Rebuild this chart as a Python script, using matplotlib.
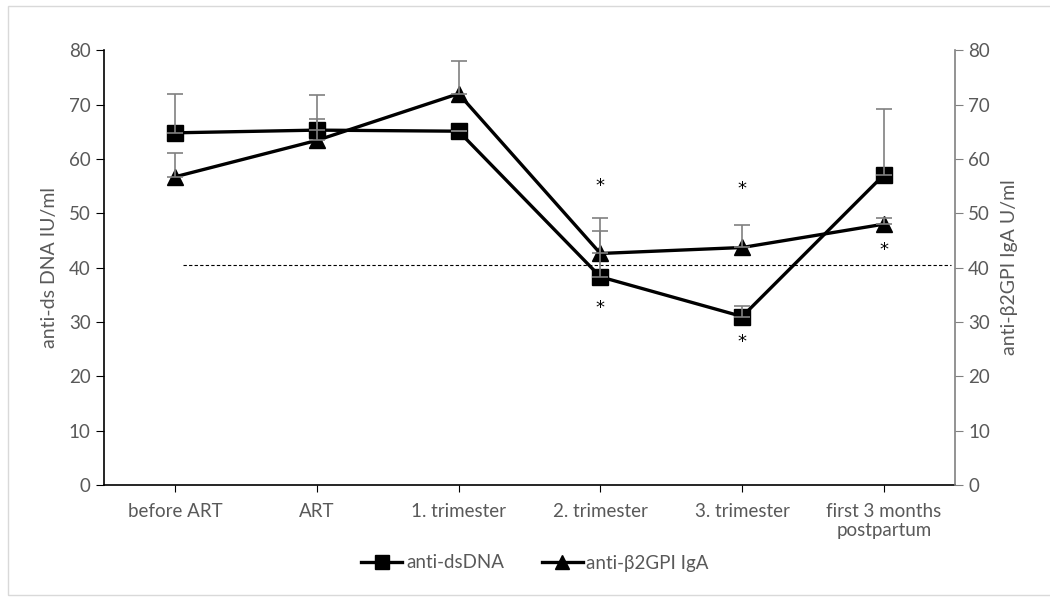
import numpy as np
import matplotlib
matplotlib.use('Agg')
import matplotlib.pyplot as plt
from matplotlib.patches import Rectangle

plt.rcParams['font.family'] = ['Lato', 'DejaVu Sans']

categories = ['before ART', 'ART', '1. trimester', '2. trimester', '3. trimester',
              'first 3 months\npostpartum']
dsdna = [64.8, 65.3, 65.1, 38.3, 31.0, 57.1]
dsdna_top = [72.0, 71.8, 65.1, 46.7, 33.0, 69.1]
b2gpi = [56.7, 63.4, 72.0, 42.6, 43.7, 48.0]
b2gpi_top = [61.1, 67.4, 78.1, 49.1, 47.9, 49.1]
cutoff = 40.5
cutoff_span = [0.06, 5.47]
# significance marks: (category index, y)
stars_x = [3, 3, 4, 4, 5]
stars_y = [55.1, 32.5, 54.4, 26.3, 43.2]

grey = '#595959'
x = np.arange(len(categories))

fig = plt.figure(figsize=(10.5, 5.98), dpi=100)
fig.patches.append(Rectangle((8/1050, 0.005), 1.0, 0.985, transform=fig.transFigure,
                             fill=False, edgecolor='#d9d9d9', linewidth=1))
ax = fig.add_axes([0.099, 0.189, 0.8105, 0.727])

ax.plot(x, dsdna, color='black', lw=2.4, marker='s', markersize=12, label='anti-dsDNA', zorder=2)
ax.plot(x, b2gpi, color='black', lw=2.4, marker='^', markersize=12, label='anti-\u03b22GPI IgA', zorder=2)

up1 = np.array(dsdna_top) - np.array(dsdna)
up2 = np.array(b2gpi_top) - np.array(b2gpi)
ax.errorbar(x, dsdna, yerr=[np.zeros(len(x)), up1], fmt='none', ecolor='#808080',
            elinewidth=1.2, capsize=6, capthick=1.2, zorder=3)
ax.errorbar(x, b2gpi, yerr=[np.zeros(len(x)), up2], fmt='none', ecolor='#808080',
            elinewidth=1.2, capsize=6, capthick=1.2, zorder=3)

ax.hlines(cutoff, cutoff_span[0], cutoff_span[1], colors='black', linestyles=(0, (3, 2)),
          linewidth=0.8, zorder=1)

for sx, sy in zip(stars_x, stars_y):
    ax.text(sx, sy, '*', ha='center', va='center', fontsize=13, color='black',
            family='DejaVu Sans')

ax.set_xlim(-0.5, 5.5)
ax.set_ylim(0, 80)
ax.set_yticks(range(0, 81, 10))
ax.set_xticks(x)
ax.set_xticklabels(categories, color=grey, fontsize=13.5, linespacing=1.15)
ax.tick_params(axis='y', colors='black', labelcolor=grey, labelsize=13.5, length=6, direction='out')
ax.tick_params(axis='x', length=5, direction='out', pad=8)
for s in ['top', 'right']:
    ax.spines[s].set_visible(False)
ax.spines['left'].set_linewidth(1.2)
ax.spines['bottom'].set_linewidth(1.2)
ax.set_ylabel('anti-ds DNA IU/ml', color=grey, fontsize=14, labelpad=8)

ax2 = ax.twinx()
ax2.set_ylim(0, 80)
ax2.set_yticks(range(0, 81, 10))
ax2.tick_params(axis='y', colors='#808080', labelcolor=grey, labelsize=13.5, length=6, direction='out')
for s in ['top', 'left', 'bottom']:
    ax2.spines[s].set_visible(False)
ax2.spines['right'].set_color('#808080')
ax2.spines['right'].set_linewidth(1.2)
ax2.set_ylabel('anti-\u03b22GPI IgA U/ml', color=grey, fontsize=14, labelpad=8)

leg = ax.legend(loc='center', bbox_to_anchor=(535/1050, 1 - 563/598), bbox_transform=fig.transFigure,
                ncol=2, frameon=False, fontsize=13.5, handlelength=2.2, handletextpad=0.2,
                columnspacing=2.0, markerscale=0.85)
for t in leg.get_texts():
    t.set_color(grey)

fig.savefig('out.png', dpi=100)
